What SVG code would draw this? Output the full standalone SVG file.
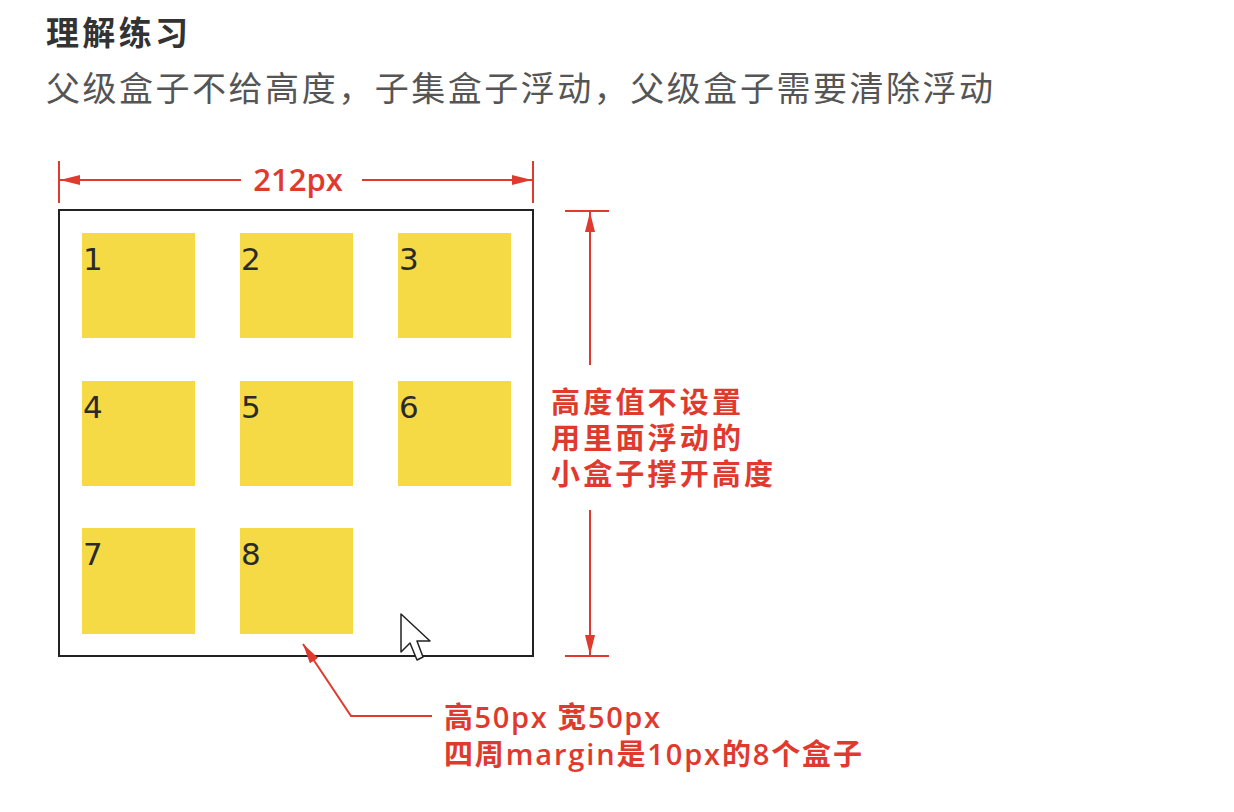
<svg xmlns="http://www.w3.org/2000/svg" width="1234" height="812" viewBox="0 0 1234 812">
<defs>
<style>
.red{fill:#e0392d;font-family:"Open Sans","Noto Sans","Noto Sans CJK SC",sans-serif;font-weight:600}
.rl{stroke:#e0392d;stroke-width:2;fill:none}
.box{fill:#f6da45}
.num{fill:#2a2a2a;font-family:"DejaVu Sans",sans-serif;font-size:31px}
</style>
<marker id="ah" viewBox="0 0 20 10" refX="20" refY="5" markerWidth="20" markerHeight="10" markerUnits="userSpaceOnUse" orient="auto">
<path d="M0,0 L20,5 L0,10 Z" fill="#e0392d"/>
</marker>
</defs>
<rect width="1234" height="812" fill="#fff"/>
<text x="46" y="45" font-family="Noto Sans CJK SC,sans-serif" font-weight="700" font-size="33" fill="#333" textLength="142">理解练习</text>
<text x="46" y="101" font-family="Noto Sans CJK SC,sans-serif" font-size="34" fill="#555" textLength="947">父级盒子不给高度，子集盒子浮动，父级盒子需要清除浮动</text>

<g id="parent">
<rect x="59" y="210" width="474" height="446" fill="none" stroke="#222" stroke-width="2"/>
</g>
<g id="b1"><rect class="box" x="82" y="233" width="113" height="105"/><text class="num" x="83" y="270">1</text></g>
<g id="b2"><rect class="box" x="240" y="233" width="113" height="105"/><text class="num" x="241" y="270">2</text></g>
<g id="b3"><rect class="box" x="398" y="233" width="113" height="105"/><text class="num" x="399" y="270">3</text></g>
<g id="b4"><rect class="box" x="82" y="381" width="113" height="105"/><text class="num" x="83" y="418">4</text></g>
<g id="b5"><rect class="box" x="240" y="381" width="113" height="105"/><text class="num" x="241" y="418">5</text></g>
<g id="b6"><rect class="box" x="398" y="381" width="113" height="105"/><text class="num" x="399" y="418">6</text></g>
<g id="b7"><rect class="box" x="82" y="528" width="113" height="106"/><text class="num" x="83" y="565">7</text></g>
<g id="b8"><rect class="box" x="240" y="528" width="113" height="106"/><text class="num" x="241" y="565">8</text></g>

<g id="width-label">
<text class="red" x="298" y="191" font-size="31" text-anchor="middle">212px</text>
</g>
<g id="height-label">
<text class="red" x="551" y="413" font-size="29" textLength="190">高度值不设置</text>
<text class="red" x="551" y="449" font-size="29" textLength="190">用里面浮动的</text>
<text class="red" x="551" y="485" font-size="29" textLength="222">小盒子撑开高度</text>
</g>
<g id="box-label">
<text class="red" x="444" y="728" font-size="29" textLength="216">高50px 宽50px</text>
<text class="red" x="444" y="765" font-size="29" textLength="418">四周margin是10px的8个盒子</text>
</g>

<g id="connectors">
<line class="rl" x1="59" y1="161" x2="59" y2="203"/>
<line class="rl" x1="533" y1="161" x2="533" y2="203"/>
<line class="rl" x1="241" y1="180" x2="60" y2="180" marker-end="url(#ah)"/>
<line class="rl" x1="362" y1="180" x2="532" y2="180" marker-end="url(#ah)"/>
<line class="rl" x1="565" y1="211" x2="609" y2="211"/>
<line class="rl" x1="565" y1="656" x2="609" y2="656"/>
<line class="rl" x1="590" y1="365" x2="590" y2="212" marker-end="url(#ah)"/>
<line class="rl" x1="590" y1="510" x2="590" y2="655" marker-end="url(#ah)"/>
<polyline class="rl" points="432,716 351,716 303,644" marker-end="url(#ah)"/>
</g>

<g id="cursor">
<path d="M401,614 L401,652 L410,643 L417,660 L423,657 L417,641 L430,641 Z" fill="#fff" stroke="#222" stroke-width="1.5" stroke-linejoin="round"/>
</g>
</svg>
